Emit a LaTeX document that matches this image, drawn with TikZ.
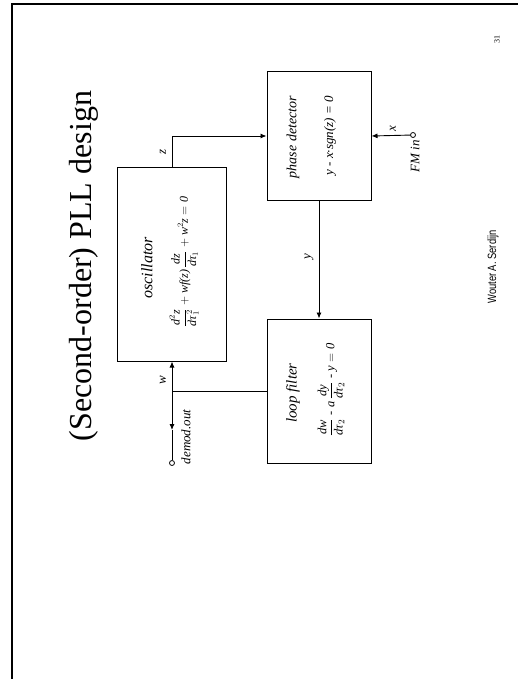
\documentclass[tikz,border=0pt]{standalone}
\usepackage{fontspec}
\setmainfont{Liberation Serif}
\setsansfont{Liberation Sans}
\usetikzlibrary{arrows.meta}
\newcommand{\ti}[1]{\textit{#1}}
\begin{document}
\begin{tikzpicture}[x=1pt,y=-1pt,
  box/.style={draw,line width=1pt,inner sep=0pt},
  wire/.style={line width=0.9pt},
  arr/.style={wire,-{Latex[length=6pt,width=5pt]}},
  term/.style={circle,draw,line width=0.8pt,fill=white,inner sep=0pt,minimum size=5pt},
  lbl/.style={rotate=90,inner sep=0pt},
  tag/.style={rotate=90,inner sep=0pt,font=\fontsize{13}{15}\selectfont\itshape}]
\useasboundingbox (0,0) rectangle (518,679);
% frame
\draw[line width=1.2pt] (12,679) -- (12,4) -- (518,4);
% title
\node[lbl,font=\fontsize{32}{36}\selectfont] (title) at (84,266) {(Second-order) PLL design};
\node[lbl,font=\fontsize{8}{9}\selectfont] (page) at (497,40) {31};
\node[lbl,font=\sffamily\fontsize{12}{14}\selectfont] (author) at (493,267) {\scalebox{0.78}[1]{Wouter A. Serdijn}};
% boxes
\node[box,minimum width=109pt,minimum height=193pt] (osc) at (172,264.5) {};
\node[box,minimum width=104pt,minimum height=128pt] (pd) at (319,136) {};
\node[box,minimum width=104pt,minimum height=144pt] (lf) at (319,391) {};
% box texts
\node[lbl,font=\fontsize{16}{18}\selectfont\itshape] (osct) at (147,268) {oscillator};
\node[lbl,font=\fontsize{12}{14}\selectfont] (osce) at (184,262)
  {$\displaystyle\frac{\ti{d}^2\ti{z}}{\ti{d}\ti{τ}_1^{\,2}} + \ti{wf(z)}\,\frac{\ti{dz}}{\ti{dτ}_1} + \ti{w}^2\ti{z} = \ti{0}$};
\node[lbl,font=\fontsize{14}{16}\selectfont\itshape] (pdt) at (293,137) {phase detector};
\node[lbl,font=\fontsize{13}{15}\selectfont\itshape] (pde) at (330,136) {y - x·sgn(z) = 0};
\node[lbl,font=\fontsize{15}{17}\selectfont\itshape] (lft) at (293,393) {loop filter};
\node[lbl,font=\fontsize{12.5}{15}\selectfont] (lfe) at (331,390)
  {$\displaystyle\frac{\ti{dw}}{\ti{dτ}_2}\ \ti{-}\ \ti{a}\,\frac{\ti{dy}}{\ti{dτ}_2}\ \ti{-}\ \ti{y} = \ti{0}$};
% terminals
\node[term] (demod) at (172,463) {};
\node[term] (fmin) at (413,135) {};
\coordinate (junc) at (osc.south |- lf.west);
\coordinate (dmid) at (172,430);
% connectors
\draw[arr] (osc.north) |- (pd.west);
\draw[arr] (pd.south) -- (lf.north);
\draw[arr] (lf.west) -| (osc.south);
\draw[arr] (junc) -- (dmid);
\draw[wire] (dmid) -- (demod);
\draw[arr] (fmin) -- (pd.east);
% signal labels
\node[tag] (zl) at (163,152) {z};
\node[tag] (yl) at (309,257) {y};
\node[tag] (wl) at (163,380) {w};
\node[tag] (xl) at (393,129) {x};
\node[tag] (dml) at (186,437) {demod.out};
\node[tag] (fml) at (415,156) {FM in};
\end{tikzpicture}
\end{document}
